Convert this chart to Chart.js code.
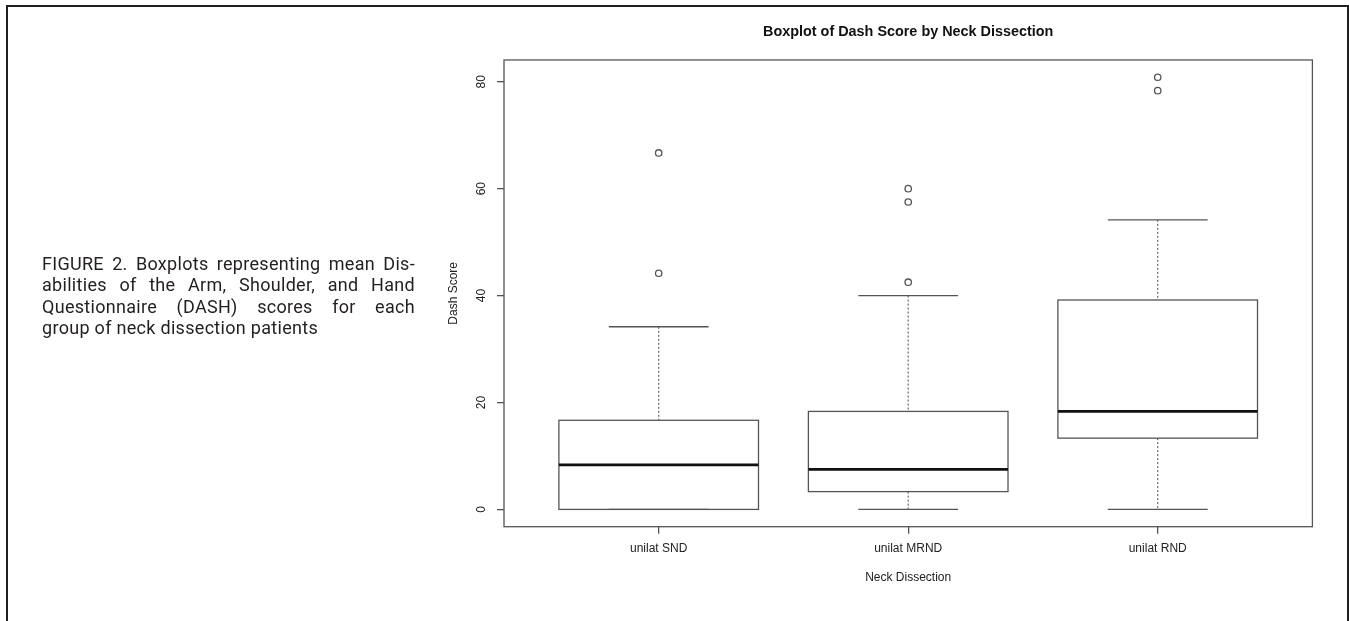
<!DOCTYPE html>
<html>
<head>
<meta charset="utf-8">
<title>Boxplot of Dash Score by Neck Dissection</title>
<script src="https://cdn.jsdelivr.net/npm/chart.js@4.4.1/dist/chart.umd.min.js"></script>
<style>
  html, body { margin: 0; padding: 0; background: #fff; }
  body { width: 1349px; height: 621px; position: relative; overflow: hidden; }
  #frame {
    position: absolute; left: 6px; top: 5px; width: 1339px; height: 640px;
    border: 2px solid #231f20; border-bottom: none;
  }
  #chart-wrap { position: absolute; left: 0; top: 0; width: 1349px; height: 621px; }
  #caption {
    position: absolute; left: 42px; top: 253px; width: 373px;
    font-family: Roboto, "Liberation Sans", Arial, sans-serif;
    font-size: 18px; line-height: 21.3px; color: #231f20; letter-spacing: 0.3px;
  }
  #caption div { text-align: justify; text-align-last: justify; white-space: nowrap; }
  #caption div.last { text-align: left; text-align-last: left; }
</style>
</head>
<body>
<div id="frame"></div>
<div id="chart-wrap"><canvas id="box-chart" width="1349" height="621"></canvas></div>
<div id="caption">
  <div>FIGURE 2. Boxplots representing mean Dis-</div>
  <div>abilities of the Arm, Shoulder, and Hand</div>
  <div>Questionnaire (DASH) scores for each</div>
  <div class="last">group of neck dissection patients</div>
</div>
<script>
// ── Data ──────────────────────────────────────────────────────────────
const categories  = ['unilat SND', 'unilat MRND', 'unilat RND'];
const whiskerLow  = [0, 0, 0];
const q1          = [0, 3.33, 13.33];
const median      = [8.33, 7.5, 18.33];
const q3          = [16.67, 18.33, 39.17];
const whiskerHigh = [34.17, 40.0, 54.17];
const outliers    = [[66.67, 44.17], [60.0, 57.5, 42.5], [80.83, 78.33]];
const yTicks      = [0, 20, 40, 60, 80];

// R style axis limits (data range + 4%)
const yMin = -3.233, yMax = 84.063;
const xMin = 0.38, xMax = 3.62;
const boxHalf = 0.4, capHalf = 0.2;

// ── Box / whisker drawing through the chart scales ────────────────────
const boxplotPlugin = {
  id: 'boxplot',
  beforeDatasetsDraw(chart) {
    const { ctx, chartArea: a, scales: { x, y } } = chart;
    const seg = (x1, y1, x2, y2) => {
      ctx.beginPath(); ctx.moveTo(x1, y1); ctx.lineTo(x2, y2); ctx.stroke();
    };
    ctx.save();
    categories.forEach((name, i) => {
      const pos = i + 1;
      const cx = x.getPixelForValue(pos);
      const bl = x.getPixelForValue(pos - boxHalf);
      const br = x.getPixelForValue(pos + boxHalf);
      const cl = x.getPixelForValue(pos - capHalf);
      const cr = x.getPixelForValue(pos + capHalf);

      // whiskers (dashed)
      ctx.strokeStyle = '#666';
      ctx.lineWidth = 1.2;
      ctx.setLineDash([2, 2]);
      seg(cx, y.getPixelForValue(whiskerHigh[i]), cx, y.getPixelForValue(q3[i]));
      seg(cx, y.getPixelForValue(q1[i]), cx, y.getPixelForValue(whiskerLow[i]));
      ctx.setLineDash([]);

      // caps
      ctx.strokeStyle = '#555';
      ctx.lineWidth = 1.3;
      seg(cl, y.getPixelForValue(whiskerHigh[i]), cr, y.getPixelForValue(whiskerHigh[i]));
      seg(cl, y.getPixelForValue(whiskerLow[i]), cr, y.getPixelForValue(whiskerLow[i]));

      // box
      const top = y.getPixelForValue(q3[i]);
      const bot = y.getPixelForValue(q1[i]);
      ctx.strokeRect(bl, top, br - bl, bot - top);

      // median
      ctx.strokeStyle = '#111';
      ctx.lineWidth = 2.8;
      seg(bl, y.getPixelForValue(median[i]), br, y.getPixelForValue(median[i]));
    });

    // plot frame
    ctx.strokeStyle = '#555';
    ctx.lineWidth = 1.3;
    ctx.strokeRect(a.left, a.top, a.right - a.left, a.bottom - a.top);
    ctx.restore();
  }
};

// ── Outlier points ────────────────────────────────────────────────────
const outlierPoints = [];
outliers.forEach((vals, i) => vals.forEach(v => outlierPoints.push({ x: i + 1, y: v })));

Chart.defaults.font.family = '"Liberation Sans", Arial, sans-serif';
Chart.defaults.font.size = 12;
Chart.defaults.color = '#222';

new Chart(document.getElementById('box-chart'), {
  type: 'scatter',
  data: {
    datasets: [{
      label: 'Outliers',
      data: outlierPoints,
      pointStyle: 'circle',
      pointRadius: 3.2,
      pointBorderWidth: 1.3,
      pointBorderColor: '#555',
      pointBackgroundColor: 'rgba(0,0,0,0)',
    }]
  },
  options: {
    responsive: false,
    animation: false,
    layout: { padding: { left: 434, right: 36.6, top: 0, bottom: 24.3 } },
    plugins: {
      legend: { display: false },
      tooltip: { enabled: false },
      title: {
        display: true,
        fullSize: false,
        text: 'Boxplot of Dash Score by Neck Dissection',
        color: '#111',
        font: { size: 14.4, weight: 'bold' },
        padding: { top: 23.4, bottom: 19.3 },
      }
    },
    scales: {
      x: {
        type: 'linear',
        min: xMin, max: xMax,
        afterBuildTicks: s => { s.ticks = categories.map((c, i) => ({ value: i + 1 })); },
        afterFit: s => { s.height = 70; },
        ticks: {
          padding: 8,
          color: '#222',
          callback: v => categories[Math.round(v) - 1],
        },
        grid: { drawOnChartArea: false, drawTicks: true, tickLength: 7, color: '#555', lineWidth: 1.3 },
        border: { display: false },
        title: { display: true, text: 'Neck Dissection', color: '#222', padding: { top: 0, bottom: 12.2 } },
      },
      y: {
        type: 'linear',
        min: yMin, max: yMax,
        afterBuildTicks: s => { s.ticks = yTicks.map(v => ({ value: v })); },
        afterFit: s => { s.width = 70; },
        ticks: {
          minRotation: 90, maxRotation: 90,
          crossAlign: 'center',
          padding: 8.3,
          color: '#222',
        },
        grid: { drawOnChartArea: false, drawTicks: true, tickLength: 7, color: '#555', lineWidth: 1.3 },
        border: { display: false },
        title: { display: true, text: 'Dash Score', color: '#222', padding: { top: 12.8, bottom: 0 } },
      }
    }
  },
  plugins: [boxplotPlugin]
});
</script>
</body>
</html>
